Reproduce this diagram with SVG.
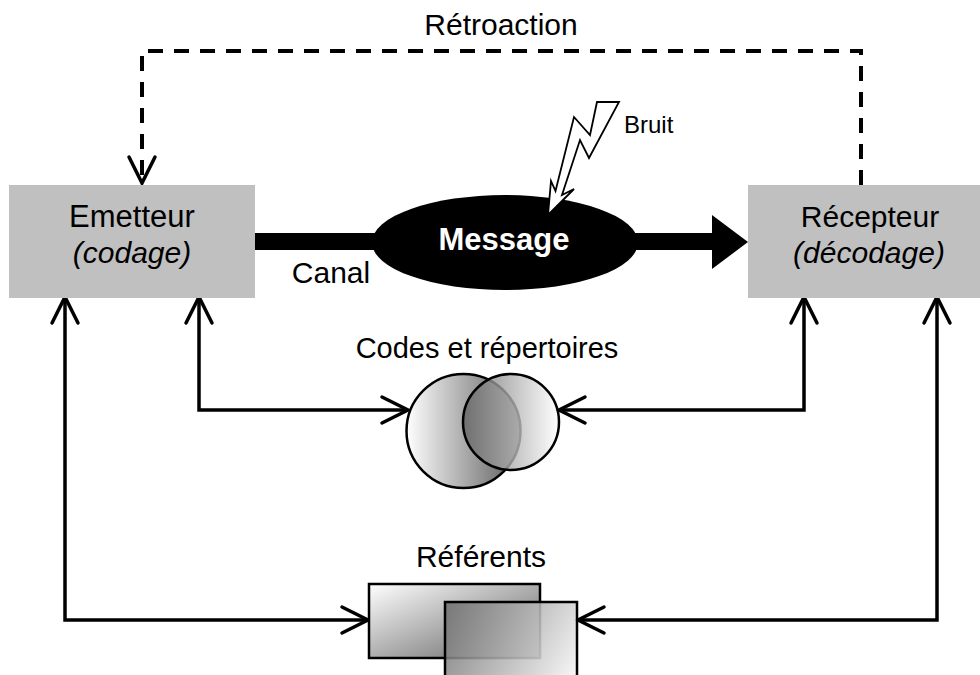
<svg xmlns="http://www.w3.org/2000/svg" width="980" height="675" viewBox="0 0 980 675">
<style>
text{font-family:"Liberation Sans",Arial,sans-serif;fill:#000}
.lbl{font-size:30px;text-anchor:middle}
.it{font-style:italic}
.box{fill:#c0c0c0}
.con{fill:none;stroke:#000;stroke-width:3.5}
.dash{stroke-width:4;stroke-dasharray:15 11}
.ol{stroke:#000;stroke-width:2.5}
</style>
<defs>
<marker id="open" markerUnits="userSpaceOnUse" markerWidth="40" markerHeight="40" viewBox="-30 -20 40 40" refX="0" refY="0" orient="auto-start-reverse" overflow="visible">
<path d="M-26,-13 L0,0 L-26,13" fill="none" stroke="#000" stroke-width="3.5" stroke-dasharray="none" stroke-linecap="round"/>
</marker>
<linearGradient id="gc1" x1="0" y1="0" x2="1" y2="0"><stop offset="0" stop-color="#ffffff"/><stop offset="1" stop-color="#5a5a5a"/></linearGradient>
<linearGradient id="gc2" x1="0" y1="0" x2="1" y2="0"><stop offset="0" stop-color="#606060" stop-opacity="0.8"/><stop offset="1" stop-color="#ffffff" stop-opacity="0.8"/></linearGradient>
<linearGradient id="gr1" x1="0" y1="0" x2="1" y2="1"><stop offset="0" stop-color="#ffffff"/><stop offset="1" stop-color="#5e5e5e"/></linearGradient>
<linearGradient id="gr2" gradientUnits="userSpaceOnUse" x1="445" y1="602" x2="585" y2="680"><stop offset="0" stop-color="#6a6a6a" stop-opacity="0.85"/><stop offset="1" stop-color="#ffffff" stop-opacity="0.9"/></linearGradient>
</defs>

<g id="connectors">
<path class="con dash" d="M861,185 V51 H142 V183" marker-end="url(#open)"/>
<path class="con" d="M65,297 V620 H368" marker-start="url(#open)" marker-end="url(#open)"/>
<path class="con" d="M199,297 V410 H408" marker-start="url(#open)" marker-end="url(#open)"/>
<path class="con" d="M804,297 V410 H559" marker-start="url(#open)" marker-end="url(#open)"/>
<path class="con" d="M937,297 V620 H578" marker-start="url(#open)" marker-end="url(#open)"/>
<rect x="255" y="233" width="458" height="17" fill="#000"/>
<polygon points="712,215 748,242 712,269" fill="#000"/>
</g>

<text class="lbl" x="501" y="35">Rétroaction</text>

<g id="emetteur">
<rect class="box" x="9" y="185" width="246" height="113"/>
<text class="lbl" x="132" y="227" style="font-size:31px">Emetteur</text>
<text class="lbl it" x="132" y="263">(codage)</text>
</g>

<g id="recepteur">
<rect class="box" x="748" y="185" width="244" height="113"/>
<text class="lbl" x="870" y="227">Récepteur</text>
<text class="lbl it" x="869" y="263">(décodage)</text>
</g>

<g id="message">
<ellipse cx="505" cy="242.5" rx="133" ry="47.5" fill="#000"/>
<text x="504" y="250" style="font-size:31px;font-weight:bold;text-anchor:middle;fill:#fff">Message</text>
</g>

<text class="lbl" x="331" y="283">Canal</text>

<g id="bruit">
<polygon points="597,102 619,102 589,158 580,140 562,195 574,189 548,215 551,181 555.5,191 574,117 590,135" fill="#fff" stroke="#000" stroke-width="1.8" stroke-linejoin="miter"/>
<text x="624" y="133" style="font-size:24px">Bruit</text>
</g>

<g id="codes">
<text x="487" y="358" style="font-size:29px;text-anchor:middle">Codes et répertoires</text>
<circle class="ol" cx="463.5" cy="431" r="57" fill="url(#gc1)"/>
<circle class="ol" cx="511" cy="422" r="48" fill="url(#gc2)"/>
</g>

<g id="referents">
<text class="lbl" x="481" y="567">Référents</text>
<rect class="ol" x="369" y="584" width="171" height="74" fill="url(#gr1)"/>
<rect class="ol" x="445" y="602" width="132" height="85" fill="url(#gr2)"/>
</g>
</svg>
